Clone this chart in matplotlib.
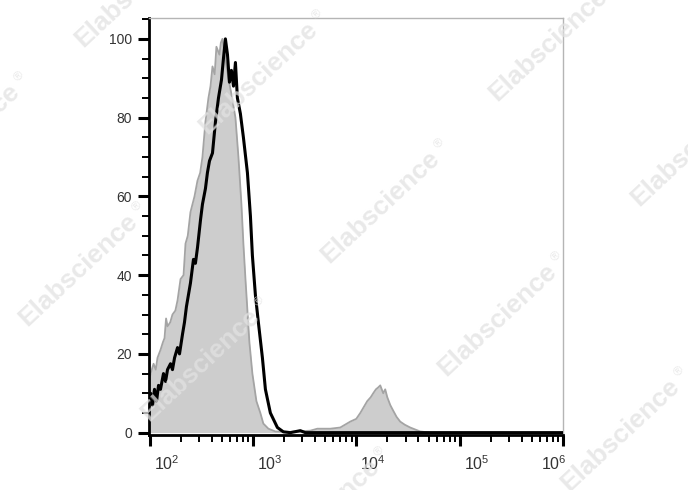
import numpy as np
import matplotlib.pyplot as plt
from matplotlib.ticker import LogLocator, NullFormatter, MultipleLocator
from matplotlib.transforms import ScaledTranslation

plt.rcParams['font.family'] = ['Liberation Sans', 'DejaVu Sans']
plt.rcParams['mathtext.fontset'] = 'custom'
plt.rcParams['mathtext.rm'] = 'Liberation Sans'
plt.rcParams['mathtext.it'] = 'Liberation Sans'

# grey (filled) histogram: log10 intensity, % of max
grey_log = [1.990, 2.010, 2.039, 2.060, 2.077, 2.106, 2.130, 2.145, 2.160, 2.174, 2.200,
            2.222, 2.250, 2.271, 2.300, 2.329, 2.348, 2.370, 2.396, 2.435, 2.464, 2.490,
            2.512, 2.541, 2.570, 2.590, 2.609, 2.630, 2.647, 2.676, 2.690, 2.705, 2.734,
            2.763, 2.792, 2.831, 2.860, 2.889, 2.908, 2.928, 2.947, 2.966, 2.995, 3.034,
            3.072, 3.101, 3.150, 3.217, 3.362, 3.556, 3.623, 3.749, 3.845, 3.942, 4.000,
            4.039, 4.106, 4.140, 4.164, 4.190, 4.213, 4.232, 4.261, 4.280, 4.300, 4.329,
            4.357, 4.390, 4.425, 4.470, 4.522, 4.618, 4.715, 6.000]
grey_val = [12, 15, 17.5, 16, 19, 21, 23, 24, 29, 27, 28,
            30, 31, 33.6, 39, 40, 48, 50, 56, 60, 64, 66,
            70, 79, 85, 88, 93, 91, 98, 96, 99, 100, 95,
            90, 86, 80, 70, 58, 48, 39, 31, 23, 15, 8,
            5, 2.3, 1, 0.3, 0.2, 0.5, 1, 1, 1.3, 2.8, 3.5,
            5, 8, 9, 10, 11, 11.5, 12, 10, 11, 9, 7,
            5.6, 4, 2.8, 2, 1.3, 0.3, 0, 0]

# black (open) histogram
black_log = [1.990, 2.010, 2.029, 2.048, 2.068, 2.087, 2.106, 2.135, 2.155, 2.174, 2.203,
             2.222, 2.242, 2.271, 2.290, 2.319, 2.338, 2.357, 2.396, 2.425, 2.444, 2.464,
             2.493, 2.512, 2.541, 2.560, 2.580, 2.609, 2.638, 2.667, 2.696, 2.715, 2.734,
             2.754, 2.773, 2.792, 2.812, 2.831, 2.850, 2.879, 2.908, 2.947, 2.976, 2.995,
             3.024, 3.053, 3.092, 3.121, 3.169, 3.237, 3.295, 3.362, 3.459, 3.507, 6.000]
black_val = [8, 10, 7, 11, 8, 12, 11, 15, 13, 16, 17.5,
             16, 19, 21.6, 20, 25, 28, 32, 38, 44, 43, 47,
             54, 58, 62, 66, 69, 71, 79, 85, 89.6, 95, 100,
             96, 89, 92, 88, 94, 85, 81, 75, 66, 55, 45,
             35, 28, 19, 11, 5, 1.3, 0.2, 0, 0.5, 0, 0]

y_ticks = [0, 20, 40, 60, 80, 100]
x_decades = [2, 3, 4, 5, 6]

# watermark centres in pixels (x, y from top)
marks = [(134, -9), (258, 78), (548, 45), (-40, 140), (380, 207), (690, 150),
         (78, 270), (497, 320), (200, 365), (620, 435), (320, 515)]

W, H = 688, 490
fig = plt.figure(figsize=(W / 100, H / 100), dpi=100)
ax = fig.add_axes([148.5 / W, 1 - 435 / H, (563 - 148.5) / W, (435 - 18) / H])

gx = 10 ** np.array(grey_log)
bx = 10 ** np.array(black_log)
ax.fill_between(gx, 0, grey_val, color='#cdcdcd', lw=0, zorder=1)
ax.plot(gx, grey_val, color='#a4a4a4', lw=1.3, zorder=2)
ax.plot(bx, black_val, color='black', lw=2.2, zorder=3)

ax.set_xscale('log')
ax.set_xlim(10 ** 1.99, 1e6)
ax.set_ylim(-0.6, 105.3)

ax.set_yticks(y_ticks)
ax.yaxis.set_minor_locator(MultipleLocator(5))
ax.set_xticks([10.0 ** d for d in x_decades])
ax.set_xticklabels([r'$10^{%d}$' % d for d in x_decades])
ax.xaxis.set_minor_locator(LogLocator(base=10, subs=np.arange(2, 10)))
ax.xaxis.set_minor_formatter(NullFormatter())

ax.tick_params(which='major', length=8, width=2.2, color='black', labelsize=10,
               labelcolor='#333333', pad=4)
ax.tick_params(which='minor', length=5, width=1.4, color='black')
ax.tick_params(axis='x', which='major', pad=6, labelsize=11.5)

# x labels sit right of their ticks, the last one pulled left
for i, lab in enumerate(ax.get_xticklabels()):
    dx = 0.17 if i < len(x_decades) - 1 else -0.09
    lab.set_transform(lab.get_transform() + ScaledTranslation(dx, 0, fig.dpi_scale_trans))

for s in ['left', 'bottom']:
    ax.spines[s].set_linewidth(2)
    ax.spines[s].set_color('black')
for s in ['top', 'right']:
    ax.spines[s].set_linewidth(1)
    ax.spines[s].set_color('#b5b5b5')

ang = 43
c, s_ = np.cos(np.radians(ang)), np.sin(np.radians(ang))
for (mx, my) in marks:
    fx, fy = mx / W, 1 - my / H
    fig.text(fx, fy, 'Elabscience', rotation=ang, rotation_mode='anchor', ha='center',
             va='center', fontsize=19, fontweight='bold', family='Liberation Sans',
             color='#e2e2e2', alpha=0.75, zorder=10)
    ex, ey = mx + 86 * c - 6 * s_, my - 86 * s_ - 6 * c
    fig.text(ex / W, 1 - ey / H, '\u00ae', rotation=ang, ha='center', va='center',
             fontsize=9, family='Liberation Sans', color='#e2e2e2', alpha=0.75, zorder=10)

fig.savefig('out.png', dpi=100)
